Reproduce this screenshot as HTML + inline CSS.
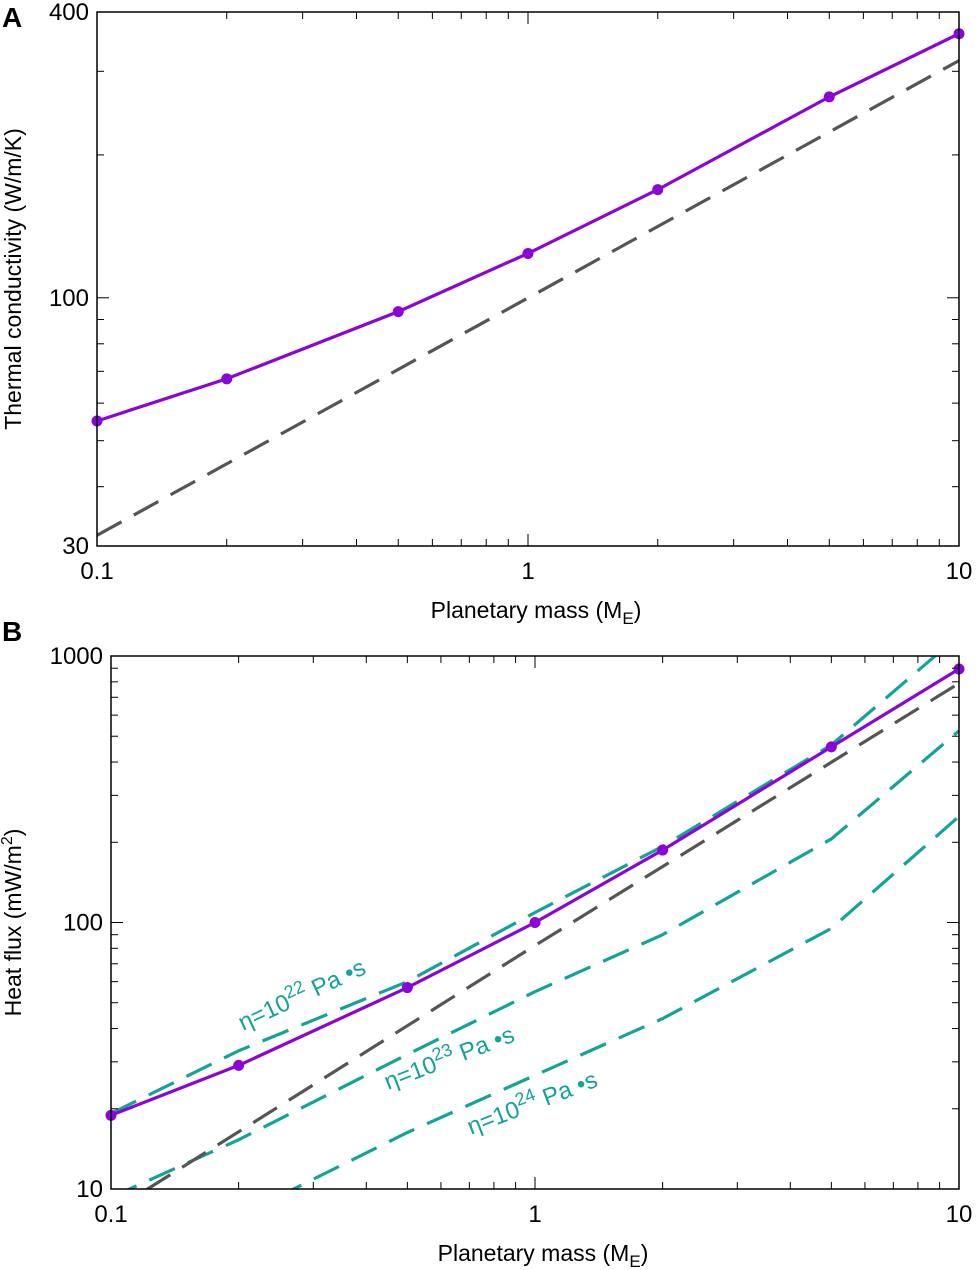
<!DOCTYPE html>
<html><head><meta charset="utf-8">
<style>
html,body{margin:0;padding:0;background:#fff;}
svg{display:block;font-family:"Liberation Sans",Arial,sans-serif;}
</style></head>
<body>
<svg id="fig" width="980" height="1270" viewBox="0 0 980 1270" xmlns="http://www.w3.org/2000/svg">
<text x="2" y="27" font-size="28" font-weight="bold">A</text>
<text x="2" y="641" font-size="28" font-weight="bold">B</text>
<g id="pa"></g>
<g id="pb"></g>
</svg>
<script>
// ---- data ----
const massA = [0.1, 0.2, 0.5, 1, 2, 5, 10];
const condModel = [55, 67.5, 93.5, 124, 169, 265, 360];
const condScaling = [31.6, 316];
const condScalingX = [0.1, 10];
const massB = [0.1, 0.2, 0.5, 1, 2, 5, 10];
const fluxModel = [18.9, 29.1, 57, 100, 187, 456, 894];
const fluxScalingX = [0.1, 1, 10];
const fluxScaling = [8.2, 82, 790];
const eta22 = [19.2, 33, 60, 109, 193, 464, 1194];
const eta23 = [9.3, 15.3, 32, 55, 90, 206, 524];
const eta24X = [0.2, 0.5, 1, 2, 5, 10];
const eta24 = [7.9, 16.3, 26.7, 43.6, 95, 250];
const xTicks = [0.1, 1, 10];
const xTickLabels = ['0.1', '1', '10'];
const yTicksA = [30, 100, 400];
const yTickLabelsA = ['30', '100', '400'];
const yTicksB = [10, 100, 1000];
const yTickLabelsB = ['10', '100', '1000'];

const NS = 'http://www.w3.org/2000/svg';
function mk(tag, attrs, parent) {
  const e = document.createElementNS(NS, tag);
  for (const k in attrs) e.setAttribute(k, attrs[k]);
  parent.appendChild(e);
  return e;
}
function logScale(d0, d1, r0, r1) {
  const l0 = Math.log10(d0), l1 = Math.log10(d1);
  return v => r0 + (Math.log10(v) - l0) / (l1 - l0) * (r1 - r0);
}
function minorVals(lo, hi) {
  const out = [];
  for (let p = Math.floor(Math.log10(lo)); p <= Math.ceil(Math.log10(hi)); p++) {
    for (let m = 1; m < 10; m++) {
      const v = m * Math.pow(10, p);
      if (v >= lo * 0.999 && v <= hi * 1.001) out.push(v);
    }
  }
  return out;
}
function drawAxes(g, X, Y, box, xd, yd, yt, ytl, ylabel, prefix) {
  const [L, T, R, B] = box;
  minorVals(xd[0], xd[1]).forEach(v => {
    const x = X(v); const major = xTicks.includes(v);
    const len = major ? 12 : 7;
    let t = mk('line', {x1: x, y1: B, x2: x, y2: B - len, stroke: '#000', 'stroke-width': 1}, g);
    
    
    t = mk('line', {x1: x, y1: T, x2: x, y2: T + len, stroke: '#000', 'stroke-width': 1}, g);
    
    
  });
  minorVals(yd[0], yd[1]).forEach(v => {
    const y = Y(v); const major = yt.includes(v);
    const len = major ? 12 : 7;
    let t = mk('line', {x1: L, y1: y, x2: L + len, y2: y, stroke: '#000', 'stroke-width': 1}, g);
    
    
    t = mk('line', {x1: R, y1: y, x2: R - len, y2: y, stroke: '#000', 'stroke-width': 1}, g);
    
    
  });
  const fr = mk('rect', {x: L, y: T, width: R - L, height: B - T, fill: 'none', stroke: '#000', 'stroke-width': 1.5}, g);
  
  
  xTicks.forEach((v, i) => {
    const t = mk('text', {x: X(v), y: B + 33, 'font-size': 24, 'text-anchor': 'middle'}, g);
    t.textContent = xTickLabels[i];
    
    
  });
  yt.forEach((v, i) => {
    const t = mk('text', {x: L - 8, y: Y(v) + 8, 'font-size': 24, 'text-anchor': 'end'}, g);
    t.textContent = ytl[i];
    
    
  });
  const xl = mk('text', {x: (L + R) / 2 + 8, y: B + 72, 'font-size': 23, 'text-anchor': 'middle'}, g);
  xl.innerHTML = 'Planetary mass (M<tspan font-size="17" dy="6">E</tspan><tspan dy="-6">)</tspan>';
  
  
  const yl = mk('text', {x: 0, y: 0, 'font-size': 23, 'text-anchor': 'middle', transform: `translate(21,${(T + B) / 2}) rotate(-90)`}, g);
  yl.innerHTML = ylabel;
  
  
}
function line(g, X, Y, xs, ys, color, dash, name, box) {
  const d = xs.map((x, i) => (i ? 'L' : 'M') + X(x).toFixed(1) + ',' + Y(ys[i]).toFixed(1)).join(' ');
  const p = mk('path', {d: d, fill: 'none', stroke: color, 'stroke-width': 3.2, 'stroke-dasharray': dash || 'none', 'clip-path': `url(#${box})`}, g);
  
  
}
function dots(g, X, Y, xs, ys, color, name) {
  xs.forEach((x, i) => {
    const c = mk('circle', {cx: X(x), cy: Y(ys[i]), r: 5.5, fill: color}, g);
    
    
  });
}
const svg = document.getElementById('fig');
const defs = mk('defs', {}, svg);
function clip(id, b) {
  const cp = mk('clipPath', {id: id}, defs);
  mk('rect', {x: b[0], y: b[1], width: b[2] - b[0], height: b[3] - b[1]}, cp);
}
const PURPLE = '#8a05d6', GRAY = '#555555', TEAL = '#13a398', DASH = '28 14';

// Panel A
const boxA = [97, 12, 959, 546];
clip('clipA', boxA);
const gA = document.getElementById('pa');
const XA = logScale(0.1, 10, boxA[0], boxA[2]);
const YA = logScale(30, 400, boxA[3], boxA[1]);
line(gA, XA, YA, condScalingX, condScaling, GRAY, DASH, 'conductivity-scaling-line', 'clipA');
line(gA, XA, YA, massA, condModel, PURPLE, null, 'conductivity-model-line', 'clipA');
dots(gA, XA, YA, massA, condModel, PURPLE, 'conductivity-point');
drawAxes(gA, XA, YA, boxA, [0.1, 10], [30, 400], yTicksA, yTickLabelsA, 'Thermal conductivity (W/m/K)', 'a');

// Panel B
const boxB = [111, 656, 959, 1189];
clip('clipB', boxB);
const gB = document.getElementById('pb');
const XB = logScale(0.1, 10, boxB[0], boxB[2]);
const YB = logScale(10, 1000, boxB[3], boxB[1]);
line(gB, XB, YB, massB, eta22, TEAL, DASH, 'eta22-line', 'clipB');
line(gB, XB, YB, massB, eta23, TEAL, DASH, 'eta23-line', 'clipB');
line(gB, XB, YB, eta24X, eta24, TEAL, DASH, 'eta24-line', 'clipB');
line(gB, XB, YB, fluxScalingX, fluxScaling, GRAY, DASH, 'flux-scaling-line', 'clipB');
line(gB, XB, YB, massB, fluxModel, PURPLE, null, 'flux-model-line', 'clipB');
dots(gB, XB, YB, massB, fluxModel, PURPLE, 'flux-point');
drawAxes(gB, XB, YB, boxB, [0.1, 10], [10, 1000], yTicksB, yTickLabelsB, 'Heat flux (mW/m<tspan font-size="16" dy="-9">2</tspan><tspan dy="9">)</tspan>', 'b');

const labels = [
  {t: '22', x: 243, y: 1031, r: -25, n: 'eta22-label'},
  {t: '23', x: 388, y: 1090, r: -21, n: 'eta23-label'},
  {t: '24', x: 471, y: 1135, r: -21, n: 'eta24-label'}
];
labels.forEach(l => {
  const t = mk('text', {x: 0, y: 0, 'font-size': 24, fill: TEAL, transform: `translate(${l.x},${l.y}) rotate(${l.r})`}, gB);
  t.innerHTML = 'η=10<tspan font-size="18" dy="-10">' + l.t + '</tspan><tspan dy="10"> Pa  •s</tspan>';
  
  
});
</script>
</body></html>
